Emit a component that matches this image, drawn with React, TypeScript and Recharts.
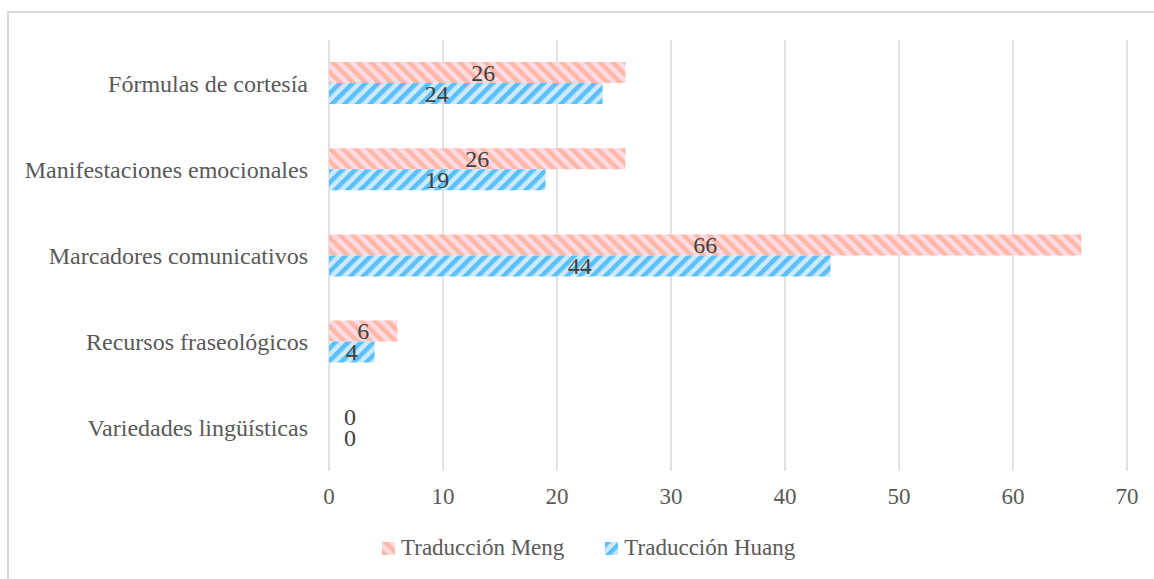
import React from "react";
import { BarChart, Bar, XAxis, YAxis, CartesianGrid } from "recharts";

const categories = [
  "Fórmulas de cortesía",
  "Manifestaciones emocionales",
  "Marcadores comunicativos",
  "Recursos fraseológicos",
  "Variedades lingüísticas",
];
const mengValues = [26, 26, 66, 6, 0];
const huangValues = [24, 19, 44, 4, 0];
const xTicks = [0, 10, 20, 30, 40, 50, 60, 70];
const seriesNames = ["Traducción Meng", "Traducción Huang"];

const data = categories.map((name, i) => ({
  name,
  meng: mengValues[i],
  huang: huangValues[i],
}));

const FONT = '"Liberation Serif", "Times New Roman", serif';

const Patterns = () => (
  <defs>
    <pattern
      id="pat-meng"
      patternUnits="userSpaceOnUse"
      width="9"
      height="9"
      patternTransform="rotate(-45)"
    >
      <rect width="9" height="9" fill="#fcdbe5" />
      <rect width="4.5" height="9" fill="#ffb8a6" />
    </pattern>
    <pattern
      id="pat-huang"
      patternUnits="userSpaceOnUse"
      width="9"
      height="9"
      patternTransform="rotate(45)"
    >
      <rect width="9" height="9" fill="#cceafc" />
      <rect width="4.5" height="9" fill="#5bc0f9" />
    </pattern>
  </defs>
);

// excel nudged the first pair of labels apart so they don't collide
const makeLabel = (firstShift: number) => (props: any) => {
  const { x, y, width, height, value, index } = props;
  const v = Number(value);
  let cx = v === 0 ? Number(x) + 21 : Number(x) + Number(width) / 2;
  if (index === 0) cx += firstShift;
  return (
    <text
      x={cx}
      y={Number(y) + Number(height) / 2}
      textAnchor="middle"
      dominantBaseline="central"
      fill="#404040"
      style={{ fontFamily: FONT, fontSize: 24 }}
    >
      {v}
    </text>
  );
};

const LegendIcon = ({ id }: { id: string }) => (
  <svg width={13} height={13} style={{ marginRight: 6 }}>
    <Patterns />
    <rect width={13} height={13} fill={`url(#${id})`} />
  </svg>
);

export default function App() {
  return (
    <div
      style={{
        position: "absolute",
        left: 0,
        top: 0,
        width: 1154,
        height: 579,
        overflow: "hidden",
        background: "#fff",
      }}
    >
      <div
        style={{
          position: "absolute",
          left: 7,
          top: 11,
          width: 1200,
          height: 620,
          border: "2px solid #d9d9d9",
          boxSizing: "border-box",
        }}
      />
      <BarChart
        width={1154}
        height={579}
        data={data}
        layout="vertical"
        margin={{ top: 40, right: 27, bottom: 78, left: 0 }}
        barGap={0}
        barSize={21}
        style={{ position: "absolute", left: 0, top: 0 }}
      >
        <Patterns />
        <CartesianGrid horizontal={false} stroke="#d9d9d9" strokeWidth={1.5} />
        <XAxis
          type="number"
          domain={[0, 70]}
          ticks={xTicks}
          axisLine={false}
          tickLine={false}
          tickSize={0}
          tickMargin={17}
          height={30}
          interval={0}
          tick={{ fill: "#595959", fontSize: 23, fontFamily: FONT }}
        />
        <YAxis
          type="category"
          dataKey="name"
          width={329}
          axisLine={false}
          tickLine={false}
          tickSize={0}
          tickMargin={21}
          interval={0}
          tick={{ fill: "#595959", fontSize: 24, fontFamily: FONT }}
        />
        <Bar
          dataKey="meng"
          name={seriesNames[0]}
          fill="url(#pat-meng)"
          minPointSize={0.01}
          isAnimationActive={false}
          label={makeLabel(6)}
        />
        <Bar
          dataKey="huang"
          name={seriesNames[1]}
          fill="url(#pat-huang)"
          minPointSize={0.01}
          isAnimationActive={false}
          label={makeLabel(-29)}
        />
      </BarChart>
      <div
        style={{
          position: "absolute",
          left: 382,
          top: 535,
          display: "flex",
          alignItems: "center",
          fontFamily: FONT,
          fontSize: 23,
          color: "#595959",
        }}
      >
        <span style={{ display: "flex", alignItems: "center", marginRight: 41 }}>
          <LegendIcon id="pat-meng" />
          {seriesNames[0]}
        </span>
        <span style={{ display: "flex", alignItems: "center" }}>
          <LegendIcon id="pat-huang" />
          {seriesNames[1]}
        </span>
      </div>
    </div>
  );
}
